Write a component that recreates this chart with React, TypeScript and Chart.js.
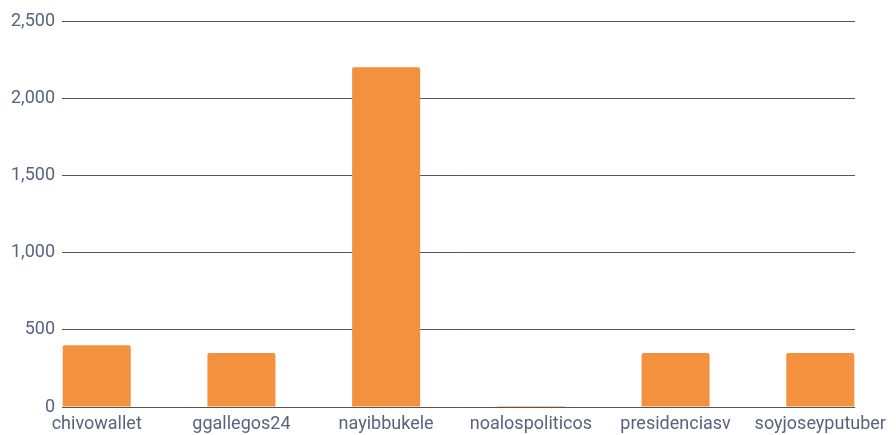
import React, { useEffect, useRef } from "react";
import { Chart, registerables } from "chart.js";

Chart.register(...registerables);

const categories = ["chivowallet", "ggallegos24", "nayibbukele", "noalospoliticos", "presidenciasv", "soyjoseyputuber"];
const values = [400, 350, 2200, 6, 350, 350];
const yTicks = [0, 500, 1000, 1500, 2000, 2500];

export default function App() {
  const ref = useRef<HTMLCanvasElement | null>(null);
  useEffect(() => {
    document.body.style.margin = "0";
    if (!ref.current) return;
    const textColor = "#56647c";
    const chart = new Chart(ref.current, {
      type: "bar",
      data: {
        datasets: [
          {
            data: values.map((v, i) => ({ x: i, y: v })),
            backgroundColor: "#f4913f",
            borderRadius: 2,
            borderSkipped: "bottom",
            barPercentage: 0.47,
            categoryPercentage: 1,
          },
        ],
      },
      options: {
        animation: false,
        responsive: true,
        maintainAspectRatio: false,
        layout: { padding: { left: 0, right: 41, top: 21, bottom: 0 } },
        plugins: { legend: { display: false }, tooltip: { enabled: false } },
        scales: {
          x: {
            type: "linear",
            offset: false,
            min: -0.24,
            max: 5.24,
            grid: { display: false, drawTicks: false, offset: false },
            border: { display: false },
            afterBuildTicks: (axis: any) => {
              axis.ticks = categories.map((_, i) => ({ value: i }));
            },
            afterFit: (axis: any) => {
              axis.paddingLeft = 0;
              axis.paddingRight = 0;
              axis.height = 28;
            },
            ticks: {
              callback: (v: any) => categories[Math.round(Number(v))] ?? "",
              color: textColor,
              font: { family: "Roboto", size: 18 },
              padding: 7,
              maxRotation: 0,
              autoSkip: false,
            },
          },
          y: {
            min: 0,
            max: 2500,
            afterBuildTicks: (axis: any) => {
              axis.ticks = yTicks.map((v) => ({ value: v }));
            },
            afterFit: (axis: any) => {
              axis.width = 62;
              axis.paddingTop = 0;
              axis.paddingBottom = 0;
            },
            grid: { color: "#555555", lineWidth: 1, drawTicks: false },
            border: { display: false },
            ticks: {
              color: textColor,
              font: { family: "Roboto", size: 18 },
              padding: 7,
              callback: (v: any) => Number(v).toLocaleString("en-US"),
            },
          },
        },
      },
    });
    return () => chart.destroy();
  }, []);
  return (
    <div style={{ width: 896, height: 435, position: "relative" }}>
      <canvas ref={ref} />
    </div>
  );
}
